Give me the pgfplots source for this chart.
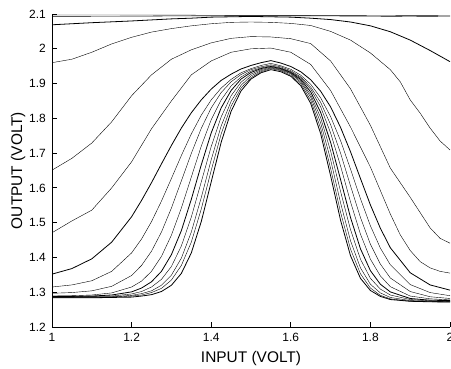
\documentclass[border=0pt]{standalone}
\usepackage{fontspec}
\setmainfont{Liberation Sans}
\usepackage{pgfplots}
\pgfplotsset{compat=1.18}
\usepackage{pgfplotstable}
\pgfplotstableread{
x     c6    c7    c8    c9    c10   c11   c12   c13    c14
1.000 1.352 1.315 1.297 1.289 1.288 1.287 1.286 1.285  1.284
1.050 1.368 1.321 1.299 1.290 1.288 1.287 1.286 1.285  1.284
1.100 1.396 1.333 1.304 1.292 1.289 1.288 1.287 1.285  1.284
1.150 1.444 1.360 1.317 1.298 1.292 1.289 1.287 1.286  1.285
1.200 1.517 1.413 1.348 1.315 1.301 1.295 1.291 1.289  1.286
1.225 1.564 1.453 1.377 1.332 1.312 1.302 1.296 1.292  1.289
1.250 1.615 1.503 1.418 1.360 1.330 1.315 1.304 1.299  1.293
1.275 1.669 1.562 1.473 1.403 1.360 1.337 1.320 1.311  1.302
1.300 1.722 1.627 1.542 1.464 1.408 1.374 1.349 1.335  1.320
1.325 1.772 1.693 1.620 1.542 1.477 1.433 1.398 1.377  1.354
1.350 1.816 1.755 1.699 1.631 1.567 1.516 1.473 1.444  1.413
1.375 1.853 1.809 1.771 1.720 1.666 1.617 1.572 1.539  1.503
1.400 1.884 1.853 1.830 1.796 1.758 1.719 1.681 1.650  1.617
1.425 1.909 1.887 1.874 1.853 1.830 1.804 1.778 1.755  1.731
1.450 1.927 1.912 1.905 1.893 1.880 1.865 1.849 1.835  1.820
1.475 1.942 1.931 1.926 1.919 1.913 1.904 1.895 1.887  1.879
1.500 1.952 1.943 1.940 1.936 1.932 1.927 1.922 1.917  1.913
1.525 1.960 1.952 1.948 1.945 1.943 1.940 1.937 1.934  1.931
1.550 1.966 1.958 1.954 1.951 1.949 1.947 1.945 1.943  1.940
1.575 1.959 1.951 1.948 1.945 1.943 1.941 1.939 1.937  1.934
1.600 1.949 1.941 1.937 1.934 1.932 1.930 1.928 1.924  1.921
1.625 1.934 1.924 1.919 1.916 1.912 1.908 1.904 1.899  1.894
1.650 1.911 1.898 1.890 1.884 1.876 1.868 1.861 1.852  1.843
1.675 1.878 1.859 1.846 1.833 1.817 1.802 1.787 1.771  1.756
1.700 1.833 1.805 1.782 1.758 1.731 1.706 1.681 1.656  1.635
1.725 1.774 1.736 1.700 1.663 1.624 1.590 1.557 1.530  1.507
1.750 1.704 1.654 1.606 1.560 1.515 1.480 1.448 1.424  1.405
1.775 1.627 1.569 1.515 1.467 1.425 1.395 1.370 1.353  1.340
1.800 1.551 1.491 1.438 1.395 1.362 1.340 1.323 1.312  1.305
1.825 1.484 1.427 1.381 1.347 1.323 1.309 1.298 1.291  1.288
1.850 1.428 1.379 1.341 1.316 1.301 1.292 1.285 1.281  1.279
1.900 1.356 1.322 1.302 1.289 1.282 1.279 1.276 1.274  1.274
1.950 1.321 1.299 1.287 1.281 1.277 1.275 1.274 1.2725 1.2725
2.000 1.306 1.290 1.282 1.278 1.276 1.274 1.273 1.272  1.272
}\inner
\begin{document}
\begin{tikzpicture}
\begin{axis}[
  at={(0,0)}, anchor=south west,
  scale only axis, width=398bp, height=313bp,
  xmin=1, xmax=2, ymin=1.2, ymax=2.1,
  axis x line=bottom, axis y line=left,
  axis line style={-, line width=0.8bp, black},
  tick align=inside, major tick length=4.5bp,
  tick style={black, line width=0.8bp},
  xtick={1,1.2,1.4,1.6,1.8,2},
  ytick={1.2,1.3,1.4,1.5,1.6,1.7,1.8,1.9,2,2.1},
  /pgf/number format/assume math mode=true,
  tick label style={font=\fontsize{12}{14}\selectfont},
  xticklabel style={inner sep=0pt, anchor=north, yshift=-6bp},
  yticklabel style={inner sep=0pt, anchor=east, xshift=-6bp},
  xlabel={INPUT (VOLT)}, ylabel={OUTPUT (VOLT)},
  label style={font=\fontsize{15.5}{18}\selectfont},
  xlabel style={at={(axis description cs:0.5,-0.115)}, anchor=base},
  ylabel style={at={(axis description cs:-0.075,0.5)}, anchor=base},
  cycle list={{black, solid, line width=0.8bp, mark=none}},
]
% C1a, C1b
\addplot coordinates {(1.0,2.097) (1.25,2.097) (1.5,2.096) (1.75,2.096) (2.0,2.095)};
\addplot coordinates {(1.0,2.093) (1.25,2.094) (1.5,2.095) (1.75,2.094) (2.0,2.092)};
% C2
\addplot coordinates {(1.0,2.069) (1.1,2.075) (1.2,2.080) (1.3,2.086) (1.35,2.088) (1.4,2.091) (1.5,2.093) (1.6,2.091) (1.65,2.088) (1.7,2.084) (1.75,2.077) (1.8,2.066) (1.85,2.049) (1.9,2.025) (1.95,1.995) (2.0,1.963)};
% C3
\addplot coordinates {(1.0,1.960) (1.05,1.970) (1.1,1.990) (1.15,2.014) (1.2,2.033) (1.25,2.048) (1.3,2.058) (1.35,2.066) (1.4,2.072) (1.45,2.076) (1.5,2.077) (1.55,2.076) (1.6,2.073) (1.65,2.067) (1.7,2.050) (1.75,2.025) (1.8,1.988) (1.85,1.940) (1.875,1.905) (1.9,1.853) (1.925,1.815) (1.95,1.772) (1.975,1.735) (2.0,1.709)};
% C4
\addplot coordinates {(1.0,1.651) (1.05,1.685) (1.1,1.729) (1.15,1.790) (1.2,1.865) (1.25,1.925) (1.3,1.970) (1.35,1.997) (1.4,2.017) (1.45,2.030) (1.5,2.035) (1.55,2.034) (1.6,2.029) (1.65,2.015) (1.7,1.965) (1.75,1.885) (1.8,1.780) (1.85,1.657) (1.9,1.573) (1.95,1.485) (1.975,1.455) (2.0,1.441)};
% C5
\addplot coordinates {(1.0,1.471) (1.05,1.505) (1.1,1.536) (1.15,1.600) (1.2,1.675) (1.25,1.770) (1.3,1.850) (1.35,1.925) (1.4,1.965) (1.45,1.990) (1.5,2.000) (1.55,2.002) (1.6,1.990) (1.65,1.955) (1.7,1.880) (1.75,1.775) (1.8,1.660) (1.85,1.525) (1.875,1.465) (1.9,1.420) (1.925,1.388) (1.95,1.370) (1.975,1.360) (2.0,1.355)};
% inner family
\addplot table[x=x,y=c6] {\inner};
\addplot table[x=x,y=c7] {\inner};
\addplot table[x=x,y=c8] {\inner};
\addplot table[x=x,y=c9] {\inner};
\addplot table[x=x,y=c10] {\inner};
\addplot table[x=x,y=c11] {\inner};
\addplot table[x=x,y=c12] {\inner};
\addplot table[x=x,y=c13] {\inner};
\addplot table[x=x,y=c14] {\inner};
\end{axis}
\pgfresetboundingbox
\path[use as bounding box] (-52bp,-42bp) rectangle (399bp,327bp);
\end{tikzpicture}
\end{document}
